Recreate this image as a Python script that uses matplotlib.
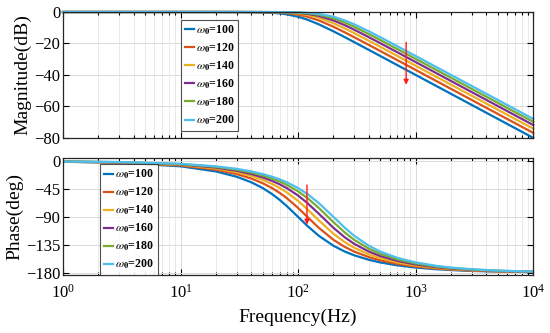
import numpy as np
import matplotlib
matplotlib.use('Agg')
import matplotlib.pyplot as plt
from matplotlib.ticker import LogLocator, NullFormatter

plt.rcParams['font.family'] = ['Liberation Serif', 'DejaVu Serif']
plt.rcParams['mathtext.fontset'] = 'stix'

freq = [1, 3, 10, 20, 30, 40, 50, 60, 70, 80, 100, 120, 150, 200, 250, 300,
        400, 500, 700, 1000, 1500, 2000, 3000, 5000, 10000]

w0_values = [100, 120, 140, 160, 180, 200]

# magnitude (dB)
mag_100 = [0, 0, 0, -0.01, -0.04, -0.11, -0.26, -0.53, -0.93, -1.49, -3.01, -4.88, -7.83,
           -12.30, -16.03, -19.14, -24.10, -27.97, -33.81, -40.00, -47.04, -52.04, -59.08, -67.96, -80.00]
mag_120 = [0, 0, 0, 0, -0.02, -0.05, -0.13, -0.26, -0.48, -0.78, -1.71, -3.01, -5.37,
           -9.40, -12.98, -16.03, -20.95, -24.81, -30.64, -36.83, -43.88, -48.87, -55.92, -64.79, -76.83]
mag_140 = [0, 0, 0, 0, -0.01, -0.03, -0.07, -0.14, -0.26, -0.44, -1.00, -1.87, -3.65,
           -7.13, -10.48, -13.44, -18.30, -22.14, -27.97, -34.16, -41.20, -46.20, -53.24, -62.11, -74.16]
mag_160 = [0, 0, 0, 0, -0.01, -0.02, -0.04, -0.09, -0.16, -0.26, -0.62, -1.19, -2.49,
           -5.37, -8.43, -11.26, -16.03, -19.84, -25.65, -31.84, -38.88, -43.88, -50.92, -59.79, -71.84]
mag_180 = [0, 0, 0, 0, 0, -0.01, -0.03, -0.05, -0.10, -0.17, -0.40, -0.78, -1.71,
           -4.02, -6.74, -9.40, -14.05, -17.82, -23.61, -29.79, -36.83, -41.83, -48.87, -57.75, -69.79]
mag_200 = [0, 0, 0, 0, 0, -0.01, -0.02, -0.04, -0.06, -0.11, -0.26, -0.53, -1.19,
           -3.01, -5.37, -7.83, -12.30, -16.03, -21.79, -27.97, -35.00, -40.00, -47.04, -55.92, -67.96]

# phase (deg)
ph_100 = [-0.81, -2.43, -8.13, -16.42, -25.00, -33.96, -43.31, -52.97, -62.74, -72.35, -90.00,
          -104.54, -120.51, -136.69, -146.04, -152.06, -159.34, -163.58, -168.35, -171.87,
          -174.59, -175.95, -177.30, -178.38, -179.19]
ph_120 = [-0.68, -2.03, -6.77, -13.63, -20.66, -27.94, -35.49, -43.31, -51.35, -59.49, -75.46,
          -90.00, -107.65, -127.03, -138.59, -146.04, -155.00, -160.19, -165.98, -170.23,
          -173.50, -175.13, -176.76, -178.06, -179.03]
ph_140 = [-0.58, -1.74, -5.80, -11.65, -17.62, -23.75, -30.07, -36.59, -43.31, -50.19, -64.13,
          -77.65, -95.58, -117.26, -130.91, -139.84, -150.58, -156.75, -163.58, -168.58,
          -172.42, -174.32, -176.22, -177.73, -178.87]
ph_160 = [-0.51, -1.52, -5.07, -10.18, -15.37, -20.66, -26.09, -31.68, -37.42, -43.31, -55.41,
          -67.59, -84.78, -107.65, -123.12, -133.50, -146.04, -153.24, -161.17, -166.93,
          -171.32, -173.50, -175.67, -177.41, -178.70]
ph_180 = [-0.45, -1.35, -4.51, -9.04, -13.63, -18.29, -23.06, -27.94, -32.94, -38.07, -48.65,
          -59.49, -75.46, -98.49, -115.32, -127.03, -141.41, -149.68, -158.72, -165.26,
          -170.23, -172.69, -175.13, -177.08, -178.54]
ph_200 = [-0.41, -1.22, -4.05, -8.13, -12.24, -16.42, -20.66, -25.00, -29.42, -33.96, -43.31,
          -52.97, -67.59, -90.00, -107.65, -120.51, -136.69, -146.04, -156.25, -163.58,
          -169.13, -171.87, -174.59, -176.76, -178.38]

mags = [mag_100, mag_120, mag_140, mag_160, mag_180, mag_200]
phases = [ph_100, ph_120, ph_140, ph_160, ph_180, ph_200]
colors = ['#0072BD', '#D95319', '#EDB120', '#7E2F8E', '#77AC30', '#4DBEEE']

# red arrows (direction of increasing w0)
mag_arrow = (830, -17.5, -48)
ph_arrow = (119, -34, -107)

fig = plt.figure(figsize=(5.5, 3.33), dpi=100)
ax1 = fig.add_axes([0.1145, 0.586, 0.855, 0.378])
ax2 = fig.add_axes([0.1145, 0.174, 0.855, 0.351])

for i in range(len(w0_values)):
    lab = r'$\mathit{\omega}_{\mathbf{0}}$=%d' % w0_values[i]
    ax1.semilogx(freq, mags[i], color=colors[i], lw=1.6, label=lab, clip_on=False)
    ax2.semilogx(freq, phases[i], color=colors[i], lw=1.6, label=lab)

ax1.annotate('', xy=(mag_arrow[0], mag_arrow[2]), xytext=(mag_arrow[0], mag_arrow[1]),
             arrowprops=dict(arrowstyle='-|>', color='#FF1A1A', lw=1.0, mutation_scale=7))
ax2.annotate('', xy=(ph_arrow[0], ph_arrow[2]), xytext=(ph_arrow[0], ph_arrow[1]),
             arrowprops=dict(arrowstyle='-|>', color='#FF1A1A', lw=1.0, mutation_scale=7))

for ax in [ax1, ax2]:
    ax.set_xlim(1, 1e4)
    ax.xaxis.set_major_locator(LogLocator(base=10, numticks=10))
    ax.xaxis.set_minor_locator(LogLocator(base=10, subs=np.arange(2, 10), numticks=50))
    ax.xaxis.set_minor_formatter(NullFormatter())
    ax.grid(True, which='major', color='#DADADA', lw=0.7)
    ax.grid(True, which='minor', axis='x', color='#E6E6E6', lw=0.6)
    ax.tick_params(direction='in', which='both', top=True, right=True, labelsize=12,
                   length=4, width=0.8, pad=2)
    ax.tick_params(which='minor', length=2.5)
    for s in ax.spines.values():
        s.set_color('#262626')
        s.set_linewidth(0.9)
    ax.set_axisbelow(True)

ax1.set_ylim(-80, 0)
ax1.set_yticks([0, -20, -40, -60, -80])
ax1.set_xticklabels([])
ax1.set_ylabel('Magnitude(dB)', fontsize=14, labelpad=2)

ax2.set_ylim(-184, 5)
ax2.set_yticks([0, -45, -90, -135, -180])
ax2.tick_params(axis='x', which='major', pad=6)
ax2.set_ylabel('Phase(deg)', fontsize=14, labelpad=2)
ax2.set_xlabel('Frequency(Hz)', fontsize=14, labelpad=5)

leg_kw = dict(prop={'weight': 'bold', 'size': 8.6}, frameon=True, fancybox=False,
              edgecolor='#262626', handlelength=0.8, handletextpad=0.15,
              labelspacing=0.38, borderpad=0.3, borderaxespad=0)
l1 = ax1.legend(loc='upper left', bbox_to_anchor=(0.251, 0.937), **leg_kw)
l2 = ax2.legend(loc='upper left', bbox_to_anchor=(0.079, 0.949), **leg_kw)
for l in [l1, l2]:
    l.get_frame().set_linewidth(0.8)

fig.savefig('out.png', dpi=100)
